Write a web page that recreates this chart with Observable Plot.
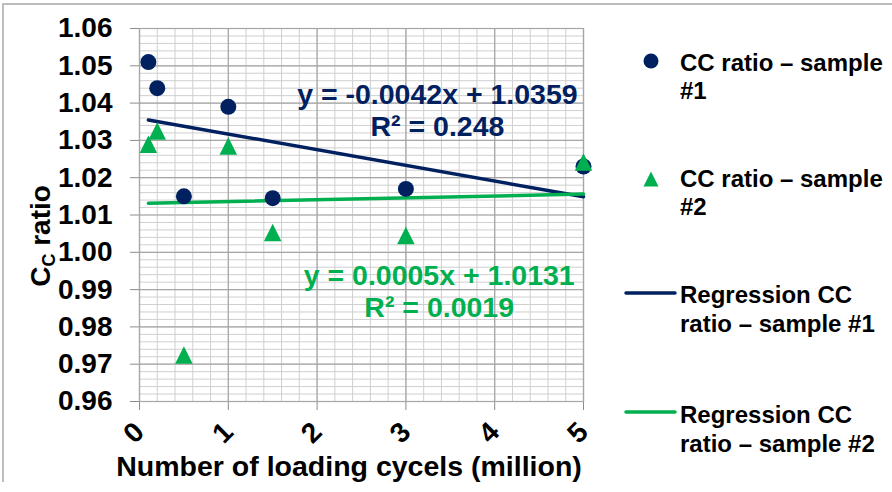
<!DOCTYPE html>
<html><head><meta charset="utf-8">
<script src="https://cdn.jsdelivr.net/npm/d3@7"></script>
<script src="https://cdn.jsdelivr.net/npm/@observablehq/plot@0.6"></script>
<style>
body{margin:0;background:#fff;font-family:"Liberation Sans",Arial,sans-serif;}
#wrap{position:relative;width:892px;height:492px;overflow:hidden;background:#fff;}
#border{position:absolute;left:2px;top:3px;width:900px;height:477px;border-top:2px solid #bdbdbd;border-left:2px solid #bdbdbd;pointer-events:none;}
.leg{position:absolute;left:680px;font-weight:bold;font-size:24px;line-height:28.5px;color:#000;white-space:nowrap;}
.sw{position:absolute;overflow:visible;}
svg g[aria-label^="y-axis"] text, svg g[aria-label^="x-axis"] text{font-size:28px !important;font-weight:bold;}
</style></head><body><div id="wrap"><div id="border"></div></div>
<script>
// ---- data ----
const cycles1 = [0.1, 0.2, 0.5, 1, 1.5, 3, 5];
const ratio1  = [1.051, 1.044, 1.015, 1.039, 1.0145, 1.017, 1.023];
const cycles2 = [0.1, 0.2, 0.5, 1, 1.5, 3, 5];
const ratio2  = [1.029, 1.0325, 0.9725, 1.0285, 1.0053, 1.0045, 1.0242];
const seriesNames = ["CC ratio – sample", "CC ratio – sample", "Regression CC ratio – sample #1", "Regression CC ratio – sample #2"];
const slopes = [-0.0042, 0.0005];
const intercepts = [1.0359, 1.0131];
const fitRange = [0.1, 5];
const eqLabels = ["y = -0.0042x + 1.0359\nR² = 0.248", "y = 0.0005x + 1.0131\nR² = 0.0019"];
const eqX = [3.355, 3.375];
const eqY = [1.0383, 0.9898];
const xTicks = [0, 1, 2, 3, 4, 5];
const yTicks = [0.96, 0.97, 0.98, 0.99, 1.00, 1.01, 1.02, 1.03, 1.04, 1.05, 1.06];
const colors = ["#002060", "#00B050"];
const xTitle = "Number of loading cycels (million)";

// ---- derived tables ----
const pts1 = cycles1.map((x, i) => ({x, y: ratio1[i]}));
const pts2 = cycles2.map((x, i) => ({x, y: ratio2[i]}));
const fits = slopes.flatMap((m, k) => fitRange.map(x => ({k, x, y: m * x + intercepts[k]})));
const eqs = eqLabels.map((t, i) => ({t, x: eqX[i], y: eqY[i], c: colors[i]}));
const xMinor = d3.range(0, 5.0001, 0.2);
const yMinor = d3.range(0, 51).map(i => 0.96 + i * 0.002);

const tri = {draw(ctx, size) { const r = Math.sqrt(size / Math.PI); ctx.moveTo(0, -r); ctx.lineTo(r, r); ctx.lineTo(-r, r); ctx.closePath(); }};
const font = "'Liberation Sans', Arial, sans-serif";

const plot = Plot.plot({
  width: 892, height: 492,
  marginLeft: 139, marginRight: 309, marginTop: 28, marginBottom: 91,
  style: {fontFamily: font, fontSize: "27px", fontWeight: "bold", color: "#000", background: "transparent"},
  x: {domain: [0, 5], ticks: xTicks, tickSize: 9, tickPadding: 17, tickRotate: -45, tickFormat: d3.format("d"), label: null},
  y: {domain: [0.96, 1.06], ticks: yTicks, tickSize: 9, tickPadding: 18, tickFormat: d3.format(".2f"), label: null},
  marks: [
    Plot.ruleY(yMinor, {stroke: "#cfcfcf", strokeWidth: 1}),
    Plot.ruleX(xMinor, {stroke: "#cfcfcf", strokeWidth: 1}),
    Plot.ruleY(yTicks, {stroke: "#a6a6a6", strokeWidth: 1.2}),
    Plot.ruleX(xTicks, {stroke: "#a6a6a6", strokeWidth: 1.2}),
    Plot.frame({stroke: "#a6a6a6", strokeWidth: 1.2}),
    Plot.line(fits, {x: "x", y: "y", z: "k", stroke: d => colors[d.k], strokeWidth: 3.5}),
    Plot.dot(pts1, {x: "x", y: "y", r: 8, fill: colors[0], symbol: "circle"}),
    Plot.dot(pts2, {x: "x", y: "y", r: 8.75, fill: colors[1], symbol: tri}),
    Plot.text(eqs, {x: "x", y: "y", text: "t", fill: "c", fontSize: 28.5, fontWeight: "bold", lineHeight: 1.12})
  ]
});
document.getElementById("wrap").appendChild(plot);

const svg = d3.select(plot);
svg.selectAll('g[aria-label^="x-axis"] path, g[aria-label^="y-axis"] path, g[aria-label^="x-axis"] line, g[aria-label^="y-axis"] line').attr("stroke", "#8c8c8c");
svg.selectAll('[aria-label="x-axis tick"], [aria-label="y-axis tick"]').attr("stroke", "#8c8c8c");

// axis titles
svg.append("text").attr("x", 349).attr("y", 476).attr("text-anchor", "middle")
  .style("font-size", "28.5px").attr("font-weight", "bold").attr("fill", "#000").text(xTitle);
const yl = svg.append("text").attr("transform", "translate(50,236) rotate(-90)").attr("text-anchor", "middle")
  .style("font-size", "28px").attr("font-weight", "bold").attr("fill", "#000");
yl.append("tspan").text("C");
yl.append("tspan").style("font-size", "18px").attr("dy", 5).text("C");
yl.append("tspan").attr("dy", -5).text(" ratio");

// legend
const wrap = document.getElementById("wrap");
const legTops = [48.6, 164.6, 281, 401];
const legLines = [
  [seriesNames[0], "#1"],
  [seriesNames[1], "#2"],
  ["Regression CC", "ratio – sample #1"],
  ["Regression CC", "ratio – sample #2"]
];
legLines.forEach((lines, i) => {
  const d = document.createElement("div");
  d.className = "leg"; d.style.top = legTops[i] + "px";
  d.innerHTML = lines.join("<br>");
  wrap.appendChild(d);
});
const sw = (x, y, w, h, inner) => {
  const s = d3.create("svg").attr("class", "sw").attr("width", w).attr("height", h)
    .style("left", x + "px").style("top", y + "px");
  s.html(inner); wrap.appendChild(s.node());
};
sw(643, 53, 16, 16, `<circle cx="8" cy="8" r="7.5" fill="${colors[0]}"/>`);
sw(643, 171, 16, 16, `<path d="M8,0.5L15.5,15.5L0.5,15.5Z" fill="${colors[1]}"/>`);
sw(626, 288, 50, 10, `<line x1="0" x2="49" y1="5" y2="5" stroke="${colors[0]}" stroke-width="3.5" stroke-linecap="round"/>`);
sw(626, 407, 50, 10, `<line x1="0" x2="49" y1="5" y2="5" stroke="${colors[1]}" stroke-width="3.5" stroke-linecap="round"/>`);
</script>
</body></html>
